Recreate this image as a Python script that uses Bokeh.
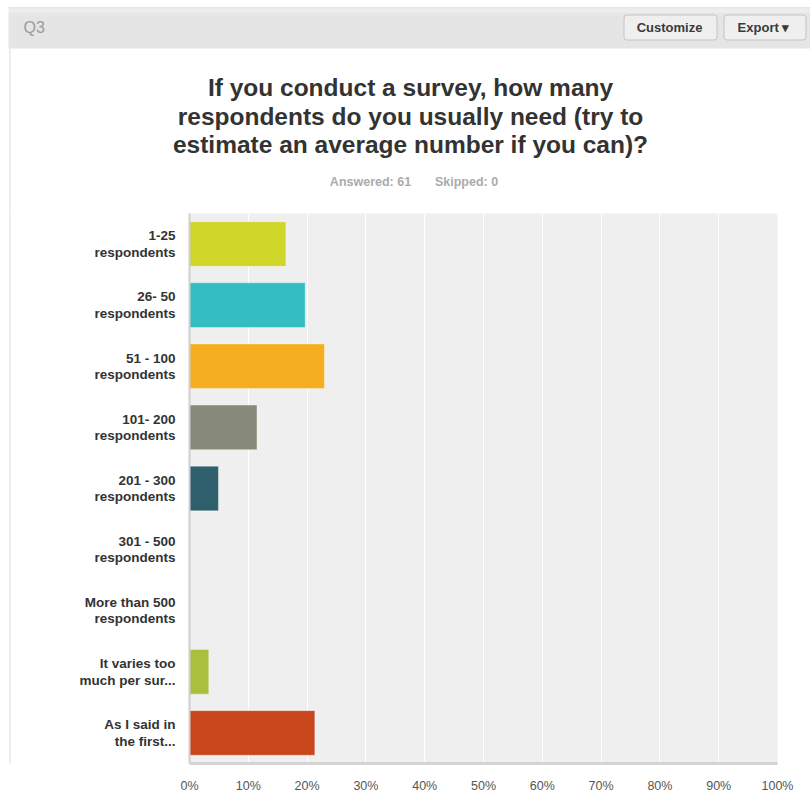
from bokeh.plotting import figure
from bokeh.layouts import column, row
from bokeh.models import FactorRange, Range1d, FixedTicker, ColumnDataSource
from bokeh.core.properties import value
from bokeh.embed import file_html
from bokeh.resources import INLINE

# ---- data ----
question_id = "Q3"
title_lines = [
    "If you conduct a survey, how many",
    "respondents do you usually need (try to",
    "estimate an average number if you can)?",
]
answered = 61
skipped = 0
categories = [
    "1-25\nrespondents",
    "26- 50\nrespondents",
    "51 - 100\nrespondents",
    "101- 200\nrespondents",
    "201 - 300\nrespondents",
    "301 - 500\nrespondents",
    "More than 500\nrespondents",
    "It varies too\nmuch per sur...",
    "As I said in\nthe first...",
]
counts = [10, 12, 14, 7, 3, 0, 0, 2, 13]
colors = ["#D0D52A", "#33BDC1", "#F5AE1F", "#878A78", "#2D5F6D",
          "#9B4F96", "#4A8FC8", "#AABF3C", "#C9461D"]
tick_values = [0, 10, 20, 30, 40, 50, 60, 70, 80, 90, 100]
tick_labels = ["0%", "10%", "20%", "30%", "40%", "50%", "60%", "70%", "80%", "90%", "100%"]

percents = [c / answered * 100 for c in counts]

FONT = "Liberation Sans"
W, H = 810, 801
HEAD_H = 213          # header (title block) height
STRIP_W = 12          # narrow left strip holding the page border line
FL, FR, FB = 189, 777, 763

# ---------------- header figure (pixel coordinates) ----------------
hd = figure(width=W, height=HEAD_H, output_backend="svg", toolbar_location=None,
            x_range=Range1d(0, W), y_range=Range1d(HEAD_H, 0),
            x_axis_type=None, y_axis_type=None,
            min_border=0, min_border_left=0, min_border_right=0,
            min_border_top=0, min_border_bottom=0)
hd.outline_line_color = None
hd.background_fill_color = "white"
hd.border_fill_color = "white"
hd.grid.visible = False

hd.quad(left=[8, 8, 8, 8, 9], right=[W, W, W, W, 10],
        top=[7, 8, 13, 14, 48], bottom=[8, 13, 14, 48, HEAD_H],
        fill_color=["#CCCCCC", "#EDEDED", "#D2D2D2", "#E5E5E5", "#DDDDDD"],
        line_color=None)
hd.quad(left=[623.5, 723.5], right=[716.5, 805.5], top=[14.5, 14.5], bottom=[39.5, 39.5],
        fill_color="#EFEFEF", line_color="#C4C4C4", line_width=1, border_radius=3)

hd.text(x=[23], y=[27], text=[question_id], text_font=value(FONT), text_font_size="16px",
        text_color="#9A9A9A", text_align="left", text_baseline="middle")
hd.text(x=[669, 763], y=[27, 27], text=["Customize", "Export \u25BE"], text_font=value(FONT),
        text_font_size="13px", text_font_style="bold", text_color="#3A3A3A",
        text_align="center", text_baseline="middle")
hd.text(x=[410] * len(title_lines), y=[87 + 28.5 * i for i in range(len(title_lines))],
        text=title_lines, text_font=value(FONT), text_font_size="24.5px", text_font_style="bold",
        text_color="#333333", text_align="center", text_baseline="middle")
hd.text(x=[370, 466], y=[181, 181], text=[f"Answered: {answered}", f"Skipped: {skipped}"],
        text_font=value(FONT), text_font_size="12.5px", text_font_style="bold",
        text_color="#ABABAB", text_align="center", text_baseline="middle")

# ---------------- left strip (page border line) ----------------
CH = H - HEAD_H
st = figure(width=STRIP_W, height=CH, output_backend="svg", toolbar_location=None,
            x_range=Range1d(0, STRIP_W), y_range=Range1d(CH, 0),
            x_axis_type=None, y_axis_type=None,
            min_border=0, min_border_left=0, min_border_right=0,
            min_border_top=0, min_border_bottom=0)
st.outline_line_color = None
st.background_fill_color = "white"
st.border_fill_color = "white"
st.grid.visible = False
st.quad(left=[9], right=[10], top=[0], bottom=[CH], fill_color="#DDDDDD", line_color=None)

# ---------------- chart figure ----------------
src = ColumnDataSource(dict(cat=categories, pct=percents, color=colors))

p = figure(width=W - STRIP_W, height=CH, output_backend="svg", toolbar_location=None,
           y_range=FactorRange(factors=list(reversed(categories)), range_padding=0),
           x_range=Range1d(0, 100),
           min_border_left=FL - STRIP_W, min_border_right=W - FR,
           min_border_top=0, min_border_bottom=H - FB)
p.border_fill_color = "white"
p.background_fill_color = "#EFEFEF"
p.outline_line_color = None

p.hbar(y="cat", right="pct", left=0, height=0.73, color="color",
       line_color="white", line_alpha=0.35, line_width=1, source=src)

xa = p.xaxis[0]
xa.ticker = FixedTicker(ticks=tick_values)
xa.major_label_overrides = {v: l for v, l in zip(tick_values, tick_labels)}
xa.major_tick_line_color = None
xa.minor_tick_line_color = None
xa.axis_line_color = "#D4D4D4"
xa.axis_line_width = 3
xa.major_label_standoff = 9
xa.major_label_text_font = FONT
xa.major_label_text_font_size = "12.5px"
xa.major_label_text_color = "#555555"

ya = p.yaxis[0]
ya.major_tick_line_color = None
ya.minor_tick_line_color = None
ya.axis_line_color = "#CFCFCF"
ya.axis_line_width = 2
ya.major_label_standoff = 8
ya.major_label_text_font = FONT
ya.major_label_text_font_size = "13.5px"
ya.major_label_text_font_style = "bold"
ya.major_label_text_color = "#333333"
ya.major_label_text_line_height = 1.1

p.xgrid.grid_line_color = "white"
p.xgrid.grid_line_width = 1
p.xgrid.ticker = FixedTicker(ticks=tick_values)
p.ygrid.grid_line_color = None

layout = column(hd, row(st, p, spacing=0), spacing=0)
open("out.html", "w").write(file_html(layout, INLINE))
